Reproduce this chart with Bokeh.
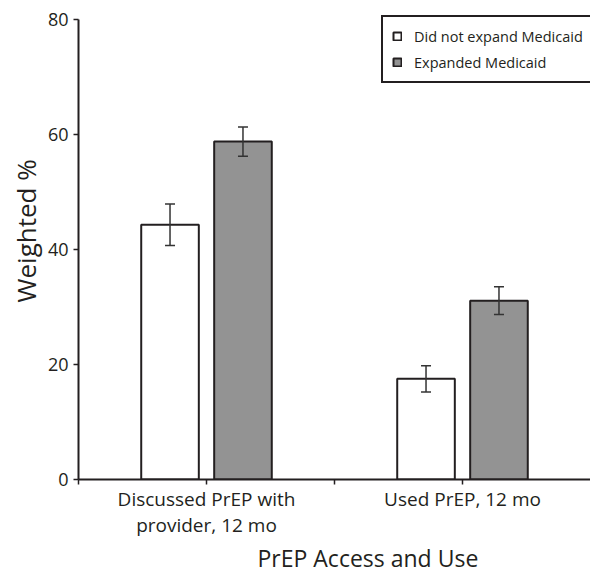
from bokeh.plotting import figure
from bokeh.models import (ColumnDataSource, Whisker, TeeHead, FixedTicker, Legend,
                          LegendItem, Range1d, Title)
from bokeh.embed import file_html
from bokeh.resources import INLINE

categories = ["Discussed PrEP with\nprovider, 12 mo", "Used PrEP, 12 mo"]
series_names = ["Did not expand Medicaid", "Expanded Medicaid"]
not_expanded = [44.3, 17.5]
not_expanded_lo = [40.7, 15.2]
not_expanded_hi = [47.9, 19.8]
expanded = [58.8, 31.1]
expanded_lo = [56.2, 28.7]
expanded_hi = [61.3, 33.5]
y_ticks = [0, 20, 40, 60, 80]
x_title = "PrEP Access and Use"
y_title = "Weighted %"

FONT = "Open Sans"
INK = "#231f20"

centers = [2 * i + 1 for i in range(len(categories))]
off = 0.285
bw = 0.45

src_a = ColumnDataSource(dict(x=[c - off for c in centers], top=not_expanded,
                              lo=not_expanded_lo, hi=not_expanded_hi))
src_b = ColumnDataSource(dict(x=[c + off for c in centers], top=expanded,
                              lo=expanded_lo, hi=expanded_hi))

W, H = 590, 574
Y_MAX = y_ticks[-1]
# frame extends a few px above the top tick so the legend box is not clipped
px_per_unit = (480 - 19) / Y_MAX
y_end = (480 - 8) / px_per_unit

p = figure(width=W, height=H, output_backend="svg", toolbar_location=None,
           x_range=Range1d(0, 2 * len(categories)), y_range=Range1d(0, y_end),
           min_border_left=78, min_border_right=0, min_border_top=8,
           min_border_bottom=94)
p.outline_line_color = None
p.grid.visible = False
p.background_fill_color = "white"

ra = p.vbar(x="x", top="top", width=bw, source=src_a, fill_color="white",
            line_color=INK, line_width=2)
rb = p.vbar(x="x", top="top", width=bw, source=src_b, fill_color="#939393",
            line_color=INK, line_width=2)

for src in (src_a, src_b):
    w = Whisker(base="x", upper="hi", lower="lo", source=src, level="overlay",
                line_color="#333333", line_width=1.5,
                upper_head=TeeHead(size=10, line_color="#333333", line_width=1.5),
                lower_head=TeeHead(size=10, line_color="#333333", line_width=1.5))
    p.add_layout(w)

# axes
p.xaxis.ticker = FixedTicker(ticks=list(range(0, 2 * len(categories))))
overrides = {i: "" for i in range(0, 2 * len(categories))}
for c, lab in zip(centers, categories):
    overrides[c] = lab
p.xaxis.major_label_overrides = overrides
p.yaxis.ticker = FixedTicker(ticks=y_ticks)
p.yaxis.bounds = (0, Y_MAX)

for ax in (p.xaxis[0], p.yaxis[0]):
    ax.axis_line_color = INK
    ax.axis_line_width = 2
    ax.major_tick_line_color = INK
    ax.major_tick_line_width = 1.5
    ax.major_tick_in = 0
    ax.major_tick_out = 5
    ax.minor_tick_line_color = None
    ax.major_label_text_font = FONT
    ax.major_label_text_color = INK
p.xaxis.major_label_text_font_size = "19px"
p.xaxis.major_label_text_line_height = 1.0
p.yaxis.major_label_text_font_size = "18px"
p.xaxis.major_label_standoff = 1
p.yaxis.major_label_standoff = 5

# axis titles as side titles (positioned along the frame)
xt = Title(text=x_title, align="left", offset=179, standoff=0,
           text_font=FONT, text_font_size="23px", text_font_style="normal",
           text_color=INK, vertical_align="middle")
p.add_layout(xt, "below")
yt = Title(text=y_title, align="left", offset=177, standoff=0,
           text_font=FONT, text_font_size="26px", text_font_style="normal",
           text_color=INK, vertical_align="middle")
p.add_layout(yt, "left")

legend = Legend(items=[LegendItem(label=series_names[0], renderers=[ra]),
                       LegendItem(label=series_names[1], renderers=[rb])],
                location=(303, 396))
legend.border_line_color = INK
legend.border_line_width = 2
legend.border_line_alpha = 1
legend.padding = 9
legend.spacing = 6
legend.glyph_width = 10
legend.glyph_height = 10
legend.label_standoff = 12
legend.label_height = 20
legend.label_width = 260
legend.label_text_font = FONT
legend.label_text_font_size = "14.5px"
legend.label_text_color = INK
legend.background_fill_alpha = 1
p.add_layout(legend)

open("out.html", "w").write(file_html(p, INLINE))
